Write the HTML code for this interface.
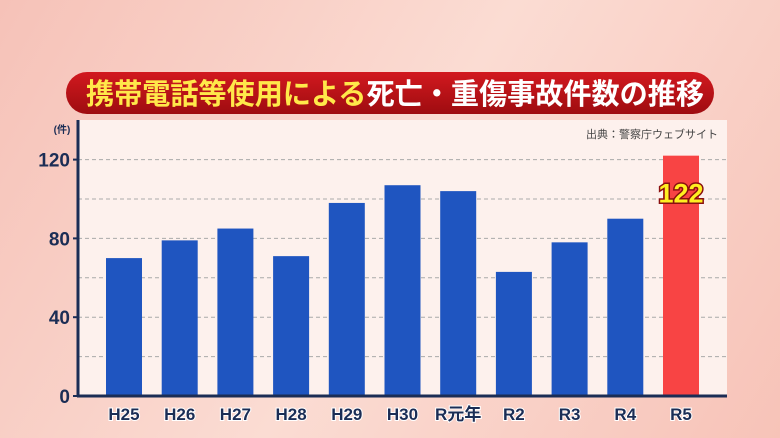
<!DOCTYPE html>
<html><head><meta charset="utf-8"><style>
html,body{margin:0;width:780px;height:438px;overflow:hidden;}
body{background:linear-gradient(120deg,#f6c2b8 0%,#fbdcd3 50%,#f7c3b8 100%);font-family:"Liberation Sans","Noto Sans CJK JP",sans-serif;}
svg{display:block;}
</style></head><body>
<svg width="780" height="438">
<defs><linearGradient id="tg" x1="0" y1="0" x2="0" y2="1"><stop offset="0" stop-color="#d2191f"/><stop offset="1" stop-color="#9e0c10"/></linearGradient></defs>
<rect x="78" y="120" width="649" height="276" fill="#fdf1ed"/>
<rect x="66" y="72" width="648" height="42" rx="21" fill="url(#tg)"/>
<text x="86" y="104" textLength="618" lengthAdjust="spacingAndGlyphs" font-size="29" font-weight="bold"><tspan fill="#ffe84a">携帯電話等使用による</tspan><tspan fill="#ffffff">死亡・重傷事故件数の推移</tspan></text>
<text x="718" y="138" text-anchor="end" font-size="11" fill="#444">出典：警察庁ウェブサイト</text>
<text x="62" y="133" text-anchor="middle" font-size="10" font-weight="bold" fill="#1b2d55">(件)</text>
<g id="grid"></g><g id="bars"></g><g id="axes"></g>
</svg>
<script>
const categories=["H25","H26","H27","H28","H29","H30","R元年","R2","R3","R4","R5"];
const values=[70,79,85,71,98,107,104,63,78,90,122];
const yTicks=[0,40,80,120];
const ns="http://www.w3.org/2000/svg";
const y0=396,pxPer=1.97,x0=124,step=55.7,bw=36;
const yS=v=>y0-v*pxPer, xS=i=>x0+i*step;
function mk(t,a,p){const e=document.createElementNS(ns,t);for(const k in a)e.setAttribute(k,a[k]);p.appendChild(e);return e;}
const g=document.getElementById('grid'),b=document.getElementById('bars'),ax=document.getElementById('axes');
for(let v=20;v<=120;v+=20){const l=mk('line',{x1:78,x2:727,y1:yS(v),y2:yS(v),stroke:'#aaa','stroke-dasharray':'4 3','stroke-width':1},g);

}
yTicks.forEach(v=>{const t=mk('text',{x:70,y:yS(v)+7,'text-anchor':'end','font-size':19,'font-weight':'bold',fill:'#1b2d55'},ax);t.textContent=v;


const tk=mk('line',{x1:73,x2:79,y1:yS(v),y2:yS(v),stroke:'#1b2d55','stroke-width':2},ax);

});
values.forEach((v,i)=>{const last=i===values.length-1;
const r=mk('rect',{x:xS(i)-bw/2,y:yS(v),width:bw,height:v*pxPer,fill:last?'#f84444':'#1f55c0'},b);


const t=mk('text',{x:xS(i),y:420,'text-anchor':'middle','font-size':17,'font-weight':'bold',fill:'#1b2d55',stroke:'#fff','stroke-width':2,'paint-order':'stroke'},ax);t.textContent=categories[i];


if(last){const l=mk('text',{x:xS(i),y:yS(v)+47,'text-anchor':'middle','font-size':27,'font-weight':'bold',fill:'#ffef20',stroke:'#8a1010','stroke-width':3,'paint-order':'stroke'},ax);l.textContent=v;

}});
const ya=mk('line',{x1:78,x2:78,y1:120,y2:397,stroke:'#1b2d55','stroke-width':3},ax);


const xa=mk('line',{x1:77,x2:727,y1:396,y2:396,stroke:'#1b2d55','stroke-width':3},ax);


</script>
</body></html>
